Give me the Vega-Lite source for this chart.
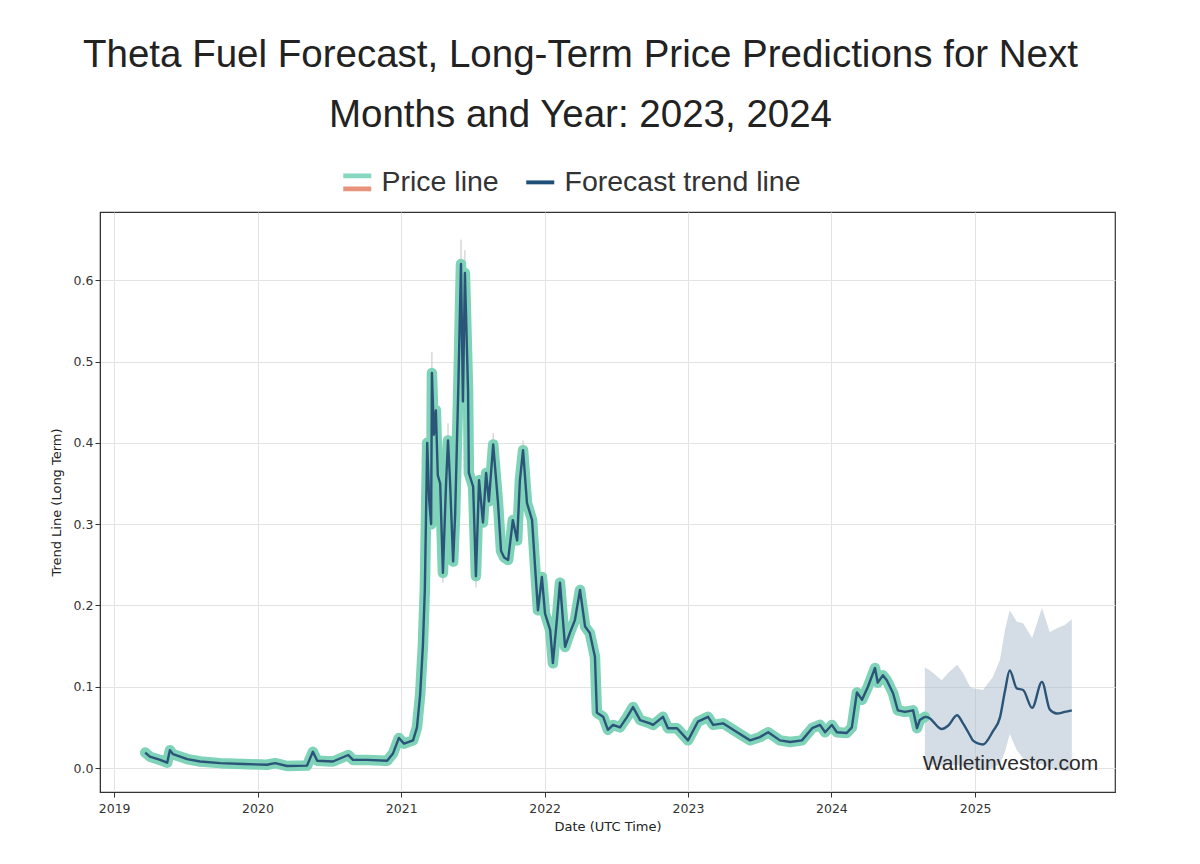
{
  "$schema": "https://vega.github.io/schema/vega-lite/v6.json",
  "width": 1015,
  "height": 580,
  "autosize": {"type": "none"},
  "padding": {"left": 100, "top": 212, "right": 85, "bottom": 72},
  "background": "white",
  "title": {
    "text": ["Theta Fuel Forecast, Long-Term Price Predictions for Next", "Months and Year: 2023, 2024"],
    "anchor": "middle", "dx": -27, "offset": 33, "fontSize": 38.5, "font": "Liberation Sans",
    "fontWeight": "normal", "color": "#222", "lineHeight": 60
  },
  "config": {
    "font": "DejaVu Sans",
    "axis": {
      "labelFont": "DejaVu Sans", "labelFontSize": 12.5, "labelColor": "#333",
      "titleFont": "DejaVu Sans", "titleFontSize": 13, "titleFontWeight": "normal", "titleColor": "#222",
      "gridColor": "#e3e3e3", "gridWidth": 1, "domainColor": "#333", "tickColor": "#333", "tickSize": 5
    },
    "view": {"stroke": "#333", "strokeWidth": 1.2}
  },
  "datasets": {
    "hist": [
      {"date": "2019-03-21", "v": 0.019}, {"date": "2019-04-02", "v": 0.014}, {"date": "2019-04-28", "v": 0.010},
      {"date": "2019-05-16", "v": 0.0065}, {"date": "2019-05-23", "v": 0.022}, {"date": "2019-05-31", "v": 0.017},
      {"date": "2019-07-06", "v": 0.011}, {"date": "2019-08-08", "v": 0.008}, {"date": "2019-09-28", "v": 0.006},
      {"date": "2019-11-25", "v": 0.005}, {"date": "2020-01-25", "v": 0.004}, {"date": "2020-02-15", "v": 0.006},
      {"date": "2020-03-16", "v": 0.0025}, {"date": "2020-05-06", "v": 0.003}, {"date": "2020-05-21", "v": 0.020},
      {"date": "2020-06-01", "v": 0.009}, {"date": "2020-07-11", "v": 0.008}, {"date": "2020-08-19", "v": 0.016},
      {"date": "2020-08-31", "v": 0.010}, {"date": "2020-10-06", "v": 0.010}, {"date": "2020-11-26", "v": 0.009},
      {"date": "2020-12-11", "v": 0.018}, {"date": "2020-12-26", "v": 0.037}, {"date": "2021-01-08", "v": 0.030},
      {"date": "2021-01-31", "v": 0.034}, {"date": "2021-02-10", "v": 0.050}, {"date": "2021-02-18", "v": 0.090},
      {"date": "2021-02-25", "v": 0.150}, {"date": "2021-03-02", "v": 0.220}, {"date": "2021-03-08", "v": 0.400},
      {"date": "2021-03-13", "v": 0.330}, {"date": "2021-03-18", "v": 0.300}, {"date": "2021-03-20", "v": 0.486},
      {"date": "2021-03-25", "v": 0.410}, {"date": "2021-03-30", "v": 0.440}, {"date": "2021-04-04", "v": 0.360},
      {"date": "2021-04-10", "v": 0.350}, {"date": "2021-04-17", "v": 0.240}, {"date": "2021-04-25", "v": 0.350},
      {"date": "2021-04-30", "v": 0.403}, {"date": "2021-05-05", "v": 0.354}, {"date": "2021-05-13", "v": 0.254},
      {"date": "2021-05-18", "v": 0.310}, {"date": "2021-05-26", "v": 0.464}, {"date": "2021-06-02", "v": 0.620},
      {"date": "2021-06-07", "v": 0.451}, {"date": "2021-06-12", "v": 0.609}, {"date": "2021-06-20", "v": 0.464},
      {"date": "2021-06-22", "v": 0.363}, {"date": "2021-07-03", "v": 0.346}, {"date": "2021-07-10", "v": 0.236},
      {"date": "2021-07-18", "v": 0.354}, {"date": "2021-07-28", "v": 0.302}, {"date": "2021-08-05", "v": 0.363},
      {"date": "2021-08-12", "v": 0.328}, {"date": "2021-08-23", "v": 0.398}, {"date": "2021-09-04", "v": 0.328},
      {"date": "2021-09-12", "v": 0.267}, {"date": "2021-09-20", "v": 0.259}, {"date": "2021-09-30", "v": 0.256},
      {"date": "2021-10-12", "v": 0.305}, {"date": "2021-10-23", "v": 0.280}, {"date": "2021-10-30", "v": 0.354},
      {"date": "2021-11-07", "v": 0.391}, {"date": "2021-11-17", "v": 0.326}, {"date": "2021-11-30", "v": 0.305},
      {"date": "2021-12-07", "v": 0.252}, {"date": "2021-12-15", "v": 0.194}, {"date": "2021-12-25", "v": 0.235},
      {"date": "2022-01-02", "v": 0.190}, {"date": "2022-01-15", "v": 0.170}, {"date": "2022-01-22", "v": 0.129},
      {"date": "2022-02-01", "v": 0.182}, {"date": "2022-02-09", "v": 0.228}, {"date": "2022-02-22", "v": 0.149},
      {"date": "2022-03-06", "v": 0.166}, {"date": "2022-03-19", "v": 0.182}, {"date": "2022-04-01", "v": 0.219},
      {"date": "2022-04-14", "v": 0.174}, {"date": "2022-04-26", "v": 0.166}, {"date": "2022-05-09", "v": 0.137},
      {"date": "2022-05-14", "v": 0.068}, {"date": "2022-05-30", "v": 0.063}, {"date": "2022-06-11", "v": 0.047},
      {"date": "2022-06-24", "v": 0.053}, {"date": "2022-07-12", "v": 0.050}, {"date": "2022-07-30", "v": 0.063},
      {"date": "2022-08-14", "v": 0.075}, {"date": "2022-09-01", "v": 0.059}, {"date": "2022-09-26", "v": 0.055},
      {"date": "2022-10-04", "v": 0.053}, {"date": "2022-10-29", "v": 0.063}, {"date": "2022-11-11", "v": 0.049},
      {"date": "2022-12-04", "v": 0.049}, {"date": "2023-01-01", "v": 0.034}, {"date": "2023-01-26", "v": 0.057},
      {"date": "2023-02-21", "v": 0.063}, {"date": "2023-03-06", "v": 0.053}, {"date": "2023-03-31", "v": 0.055},
      {"date": "2023-05-06", "v": 0.044}, {"date": "2023-06-08", "v": 0.034}, {"date": "2023-07-03", "v": 0.038},
      {"date": "2023-07-24", "v": 0.044}, {"date": "2023-08-23", "v": 0.034}, {"date": "2023-09-18", "v": 0.032},
      {"date": "2023-10-18", "v": 0.034}, {"date": "2023-11-13", "v": 0.049}, {"date": "2023-12-03", "v": 0.053},
      {"date": "2023-12-16", "v": 0.044}, {"date": "2024-01-02", "v": 0.053}, {"date": "2024-01-15", "v": 0.044},
      {"date": "2024-02-09", "v": 0.043}, {"date": "2024-02-22", "v": 0.050}, {"date": "2024-03-06", "v": 0.093},
      {"date": "2024-03-19", "v": 0.084}, {"date": "2024-04-03", "v": 0.100}, {"date": "2024-04-21", "v": 0.123},
      {"date": "2024-04-28", "v": 0.105}, {"date": "2024-05-11", "v": 0.114}, {"date": "2024-05-21", "v": 0.108},
      {"date": "2024-06-06", "v": 0.092}, {"date": "2024-06-18", "v": 0.071}, {"date": "2024-07-06", "v": 0.069},
      {"date": "2024-07-27", "v": 0.071}, {"date": "2024-08-06", "v": 0.049}, {"date": "2024-08-13", "v": 0.059},
      {"date": "2024-08-26", "v": 0.063}
    ],
    "fc": [
      {"date": "2024-08-26", "trend": 0.063, "hi": 0.124, "lo": 0.004},
      {"date": "2024-09-08", "trend": 0.061, "hi": 0.120, "lo": 0.004},
      {"date": "2024-09-16", "trend": 0.057, "hi": 0.117, "lo": 0.004},
      {"date": "2024-10-08", "trend": 0.048, "hi": 0.108, "lo": 0.003},
      {"date": "2024-10-24", "trend": 0.052, "hi": 0.117, "lo": 0.003},
      {"date": "2024-11-16", "trend": 0.065, "hi": 0.127, "lo": 0.004},
      {"date": "2024-12-01", "trend": 0.055, "hi": 0.117, "lo": 0.002},
      {"date": "2024-12-19", "trend": 0.040, "hi": 0.100, "lo": 0.0},
      {"date": "2024-12-26", "trend": 0.034, "hi": 0.098, "lo": 0.0},
      {"date": "2025-01-21", "trend": 0.029, "hi": 0.096, "lo": -0.002},
      {"date": "2025-02-15", "trend": 0.045, "hi": 0.112, "lo": 0.0},
      {"date": "2025-03-05", "trend": 0.062, "hi": 0.133, "lo": 0.005},
      {"date": "2025-03-18", "trend": 0.095, "hi": 0.170, "lo": 0.020},
      {"date": "2025-03-30", "trend": 0.120, "hi": 0.194, "lo": 0.042},
      {"date": "2025-04-17", "trend": 0.098, "hi": 0.180, "lo": 0.022},
      {"date": "2025-05-03", "trend": 0.096, "hi": 0.178, "lo": 0.012},
      {"date": "2025-05-26", "trend": 0.074, "hi": 0.160, "lo": 0.005},
      {"date": "2025-06-20", "trend": 0.106, "hi": 0.197, "lo": 0.005},
      {"date": "2025-07-10", "trend": 0.072, "hi": 0.167, "lo": 0.0},
      {"date": "2025-07-28", "trend": 0.067, "hi": 0.172, "lo": -0.002},
      {"date": "2025-08-17", "trend": 0.069, "hi": 0.176, "lo": -0.003},
      {"date": "2025-09-04", "trend": 0.071, "hi": 0.183, "lo": -0.003}
    ],
    "wick": [
      {"date": "2021-03-20", "lo": 0.486, "hi": 0.512},
      {"date": "2021-04-30", "lo": 0.403, "hi": 0.424},
      {"date": "2021-06-02", "lo": 0.620, "hi": 0.650},
      {"date": "2021-06-12", "lo": 0.609, "hi": 0.637},
      {"date": "2021-08-23", "lo": 0.398, "hi": 0.412},
      {"date": "2021-11-07", "lo": 0.391, "hi": 0.403},
      {"date": "2021-07-10", "lo": 0.222, "hi": 0.236},
      {"date": "2021-04-17", "lo": 0.228, "hi": 0.240}
    ],
    "note": [
      {"date": "2025-04-01", "v": 0.005, "label": "Walletinvestor.com"}
    ]
  },
  "layer": [
    {
      "data": {"name": "fc"},
      "mark": {"type": "area", "fill": "#a9b9cc", "opacity": 0.5},
      "encoding": {
        "x": {
          "field": "date", "type": "temporal",
          "scale": {"domain": ["2018-11-26", "2025-12-23"], "nice": false},
          "axis": {"title": "Date (UTC Time)", "format": "%Y", "tickCount": {"interval": "year", "step": 1}, "labelPadding": 5, "titlePadding": 6, "grid": true}
        },
        "y": {
          "field": "lo", "type": "quantitative",
          "scale": {"domain": [-0.0295, 0.684], "nice": false, "zero": false},
          "axis": {"title": "Trend Line (Long Term)", "values": [0, 0.1, 0.2, 0.3, 0.4, 0.5, 0.6], "format": ".1f", "titlePadding": 10, "grid": true}
        },
        "y2": {"field": "hi"}
      }
    },
    {
      "data": {"name": "wick"},
      "mark": {"type": "rule", "color": "#c4c4c4", "strokeWidth": 1},
      "encoding": {
        "x": {"field": "date", "type": "temporal", "title": "Date (UTC Time)"},
        "y": {"field": "lo", "type": "quantitative", "title": "Trend Line (Long Term)"},
        "y2": {"field": "hi"}
      }
    },
    {
      "data": {"name": "hist"},
      "mark": {"type": "line", "strokeWidth": 10.5, "strokeJoin": "round", "strokeCap": "round"},
      "encoding": {
        "x": {"field": "date", "type": "temporal", "title": "Date (UTC Time)"},
        "y": {"field": "v", "type": "quantitative", "title": "Trend Line (Long Term)"},
        "color": {
          "datum": "Price line",
          "scale": {"domain": ["Price line", "Forecast trend line"], "range": ["#7fd3b9", "#2b5578"]},
          "legend": {
            "orient": "none", "legendX": 243, "legendY": -44, "direction": "horizontal", "title": null,
            "labelFont": "Liberation Sans", "labelFontSize": 28.5, "labelColor": "#333", "labelOffset": 10,
            "labelLimit": 500, "columnPadding": 27, "symbolSize": 784, "symbolType": "M-1,-0.14H1V0.14H-1Z",
            "encode": {
              "symbols": {
                "update": {
                  "shape": [
                    {"test": "datum.value === 'Price line'", "value": "M-1,-0.64H1V-0.29H-1Z M-1,0.29H1V0.64H-1Z"},
                    {"value": "M-1,-0.14H1V0.14H-1Z"}
                  ],
                  "fill": [
                    {"test": "datum.value === 'Price line'", "value": {"gradient": "linear", "x1": 0, "y1": 0, "x2": 0, "y2": 1, "stops": [{"offset": 0, "color": "#86d9c0"}, {"offset": 0.5, "color": "#86d9c0"}, {"offset": 0.5, "color": "#e8937b"}, {"offset": 1, "color": "#e8937b"}]}},
                    {"value": "#1f4e79"}
                  ],
                  "stroke": {"value": "transparent"},
                  "strokeWidth": {"value": 0},
                  "opacity": {"value": 1}
                }
              }
            }
          }
        }
      }
    },
    {
      "data": {"name": "hist"},
      "mark": {"type": "line", "strokeWidth": 2.4, "strokeJoin": "round"},
      "encoding": {
        "x": {"field": "date", "type": "temporal", "title": "Date (UTC Time)"},
        "y": {"field": "v", "type": "quantitative", "title": "Trend Line (Long Term)"},
        "color": {"datum": "Forecast trend line"}
      }
    },
    {
      "data": {"name": "fc"},
      "mark": {"type": "line", "strokeWidth": 2.4, "strokeJoin": "round", "interpolate": "monotone"},
      "encoding": {
        "x": {"field": "date", "type": "temporal", "title": "Date (UTC Time)"},
        "y": {"field": "trend", "type": "quantitative", "title": "Trend Line (Long Term)"},
        "color": {"datum": "Forecast trend line"}
      }
    },
    {
      "data": {"name": "note"},
      "mark": {"type": "text", "font": "Liberation Sans", "fontSize": 21, "color": "#2a2a2a", "align": "center", "baseline": "middle"},
      "encoding": {
        "x": {"field": "date", "type": "temporal", "title": "Date (UTC Time)"},
        "y": {"field": "v", "type": "quantitative", "title": "Trend Line (Long Term)"},
        "text": {"field": "label"}
      }
    }
  ]
}
